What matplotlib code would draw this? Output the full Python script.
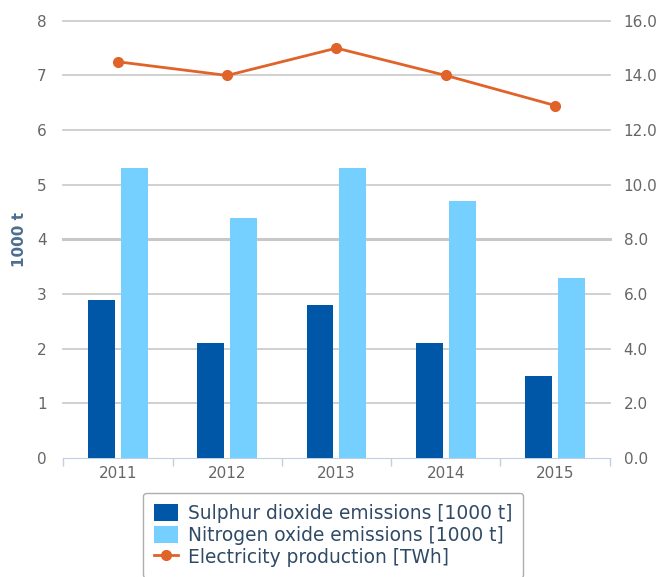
import numpy as np
import matplotlib
matplotlib.use("Agg")
import matplotlib.pyplot as plt
from matplotlib.lines import Line2D
from matplotlib.patches import Patch

years = ["2011", "2012", "2013", "2014", "2015"]
sulphur = [2.9, 2.1, 2.8, 2.1, 1.5]
nitrogen = [5.3, 4.4, 5.3, 4.7, 3.3]
electricity = [14.5, 14.0, 15.0, 14.0, 12.9]

DARK = "#0057a8"
LIGHT = "#75d0ff"
ORANGE = "#e0632a"
TICK = "#666666"

plt.rcParams["font.family"] = ["DejaVu Sans"]

fig = plt.figure(figsize=(6.65, 5.77), dpi=100)
ax = fig.add_axes([0.095, 0.206, 0.822, 0.758])
ax2 = ax.twinx()

x = np.arange(len(years))
w = 0.245
ax.bar(x - 0.15, sulphur, w, color=DARK, zorder=3)
ax.bar(x + 0.15, nitrogen, w, color=LIGHT, zorder=3)

ax.set_xlim(-0.5, len(years) - 0.5)
ax.set_ylim(0, 8)
ax.set_yticks(range(0, 9))
for v in range(1, 9):
    ax.axhline(v, color="#c8c8c8", lw=2.2 if v == 4 else 1.2, zorder=1, clip_on=False)

ax.set_xticks(x)
ax.set_xticklabels(years)
ax.set_xticks(np.arange(-0.5, len(years)), minor=True)
ax.tick_params(axis="x", which="major", length=0, labelsize=11, colors=TICK, pad=6)
ax.tick_params(axis="x", which="minor", length=6, color="#c0d0e0", width=1)
ax.tick_params(axis="y", length=0, labelsize=11, colors=TICK, pad=12)
ax.set_ylabel("1000 t", fontsize=11, fontweight="bold", color="#4d6f8f", labelpad=7)

for s in ["top", "left", "right"]:
    ax.spines[s].set_visible(False)
    ax2.spines[s].set_visible(False)
ax2.spines["bottom"].set_visible(False)
ax.spines["bottom"].set_color("#c0d0e0")

ax2.plot(x, electricity, color=ORANGE, lw=2, marker="o", ms=7, zorder=4)
ax2.set_ylim(0, 16)
ax2.set_yticks(np.arange(0, 17, 2))
ax2.set_yticklabels([f"{v:.1f}" for v in np.arange(0, 17, 2)])
ax2.tick_params(axis="y", length=0, labelsize=11, colors=TICK, pad=10)

handles = [
    Patch(facecolor=DARK, label="Sulphur dioxide emissions [1000 t]"),
    Patch(facecolor=LIGHT, label="Nitrogen oxide emissions [1000 t]"),
    Line2D([], [], color=ORANGE, lw=2, marker="o", ms=7, label="Electricity production [TWh]"),
]
leg = fig.legend(handles=handles, loc="upper left", bbox_to_anchor=(0.215, 0.146),
                 borderaxespad=0, frameon=True, fontsize=13.4, labelcolor="#2f4a66",
                 handlelength=1.3, handleheight=1.0, handletextpad=0.5,
                 labelspacing=0.15, borderpad=0.6, fancybox=True)
leg.get_frame().set_edgecolor("#999999")

fig.savefig("out.png", dpi=100)
